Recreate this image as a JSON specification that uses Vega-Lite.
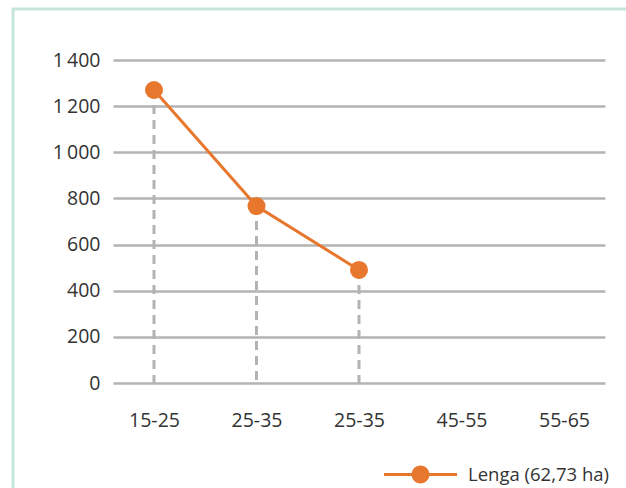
{
  "$schema": "https://vega.github.io/schema/vega-lite/v6.json",
  "autosize": "none",
  "width": 492,
  "height": 323,
  "padding": {"left": 113, "top": 60, "right": 21, "bottom": 105},
  "background": "white",
  "config": {
    "view": {"stroke": null},
    "font": "Open Sans",
    "axis": {"labelFont": "Open Sans", "labelColor": "#333333", "labelFontSize": 19.5}
  },
  "data": {
    "values": [
      {"grupo": "15-25", "valor": 1270, "serie": "Lenga (62,73 ha)"},
      {"grupo": "25-35", "valor": 767, "serie": "Lenga (62,73 ha)"},
      {"grupo": "25-35 ", "valor": 490, "serie": "Lenga (62,73 ha)"},
      {"grupo": "45-55", "valor": null, "serie": "Lenga (62,73 ha)"},
      {"grupo": "55-65", "valor": null, "serie": "Lenga (62,73 ha)"}
    ]
  },
  "encoding": {
    "x": {
      "field": "grupo",
      "type": "ordinal",
      "sort": null,
      "scale": {"type": "point", "padding": 0.4, "domain": ["15-25", "25-35", "25-35 ", "45-55", "55-65"]},
      "axis": {"title": null, "ticks": false, "domain": false, "grid": false, "labelAngle": 0, "labelPadding": 28}
    }
  },
  "layer": [
    {
      "mark": {"type": "rect", "fill": null, "stroke": "#c6e6d9", "strokeWidth": 3, "clip": false},
      "data": {"values": [{}]},
      "encoding": {
        "x": {"value": -100},
        "x2": {"value": 620},
        "y": {"value": -51},
        "y2": {"value": 500}
      }
    },
    {
      "mark": {"type": "rule", "color": "#b3b3b3", "strokeWidth": 3, "strokeDash": [9, 6]},
      "encoding": {
        "y": {
          "field": "valor",
          "type": "quantitative",
          "scale": {"domain": [0, 1400], "nice": false},
          "axis": {
            "title": null,
            "values": [0, 200, 400, 600, 800, 1000, 1200, 1400],
            "labelExpr": "replace(format(datum.value, ','), ',', '\u2009')",
            "ticks": false,
            "domain": false,
            "grid": true,
            "gridColor": "#b3b3b3",
            "gridWidth": 2.5,
            "labelPadding": 13
          }
        },
        "y2": {"datum": 0}
      }
    },
    {
      "mark": {"type": "line", "color": "#e8772e", "strokeWidth": 3},
      "encoding": {"y": {"field": "valor", "type": "quantitative"}}
    },
    {
      "mark": {"type": "point", "filled": true, "opacity": 1, "size": 324},
      "encoding": {
        "y": {"field": "valor", "type": "quantitative"},
        "color": {
          "field": "serie",
          "type": "nominal",
          "scale": {"range": ["#e8772e"]},
          "legend": {
            "title": null,
            "orient": "none",
            "legendX": 289,
            "legendY": 396,
            "symbolType": "M-2,-0.08H2V0.08H-2Z M0.49,0A0.49,0.49,0,1,1,-0.49,0A0.49,0.49,0,1,1,0.49,0Z",
            "symbolSize": 1332,
            "symbolStrokeWidth": 0,
            "symbolOpacity": 1,
            "labelOffset": 29,
            "labelFont": "Open Sans",
            "labelFontSize": 18.5,
            "labelColor": "#333333"
          }
        }
      }
    }
  ]
}
